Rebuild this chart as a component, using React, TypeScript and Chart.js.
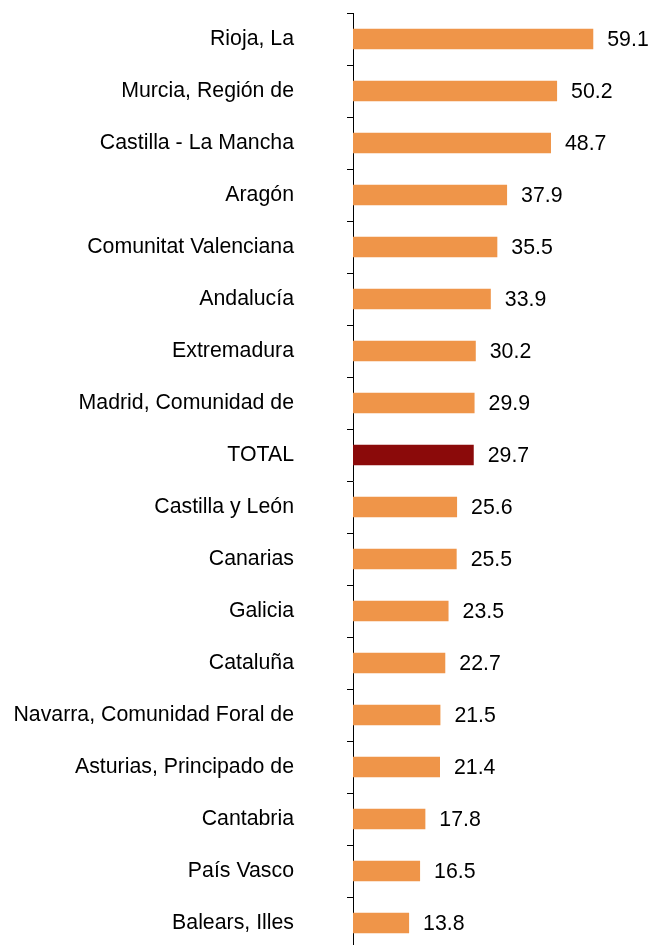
import React, { useEffect, useRef } from "react";
import { Chart, registerables } from "chart.js";

Chart.register(...registerables);

const categories: string[] = [
  "Rioja, La",
  "Murcia, Región de",
  "Castilla - La Mancha",
  "Aragón",
  "Comunitat Valenciana",
  "Andalucía",
  "Extremadura",
  "Madrid, Comunidad de",
  "TOTAL",
  "Castilla y León",
  "Canarias",
  "Galicia",
  "Cataluña",
  "Navarra, Comunidad Foral de",
  "Asturias, Principado de",
  "Cantabria",
  "País Vasco",
  "Balears, Illes",
];

const values: number[] = [
  59.1, 50.2, 48.7, 37.9, 35.5, 33.9, 30.2, 29.9, 29.7, 25.6, 25.5, 23.5, 22.7, 21.5, 21.4, 17.8, 16.5, 13.8,
];

const ORANGE = "#EF9549";
const DARK_RED = "#8B0A0A";
const FONT_FAMILY = "'Liberation Sans', Arial, sans-serif";
const FONT_SIZE = 21.3;

const valueLabels = {
  id: "valueLabels",
  afterDatasetsDraw(chart: any) {
    const ctx = chart.ctx;
    const meta = chart.getDatasetMeta(0);
    ctx.save();
    ctx.font = `${FONT_SIZE}px ${FONT_FAMILY}`;
    ctx.fillStyle = "#000000";
    ctx.textAlign = "left";
    ctx.textBaseline = "middle";
    meta.data.forEach((bar: any, i: number) => {
      const v = chart.data.datasets[0].data[i];
      ctx.fillText(v.toFixed(1), bar.x + 14, bar.y + 1);
    });
    ctx.restore();
  },
};

export default function App() {
  const ref = useRef<HTMLCanvasElement | null>(null);

  useEffect(() => {
    if (!ref.current) return;
    const chart = new Chart(ref.current, {
      type: "bar",
      data: {
        labels: categories,
        datasets: [
          {
            data: values,
            backgroundColor: categories.map((c) => (c === "TOTAL" ? DARK_RED : ORANGE)),
            barPercentage: 0.39,
            categoryPercentage: 1,
          },
        ],
      },
      options: {
        indexAxis: "y",
        animation: false,
        responsive: true,
        maintainAspectRatio: false,
        layout: { padding: { top: 13, bottom: 0, left: 0, right: 0 } },
        plugins: {
          legend: { display: false },
          tooltip: { enabled: false },
        },
        scales: {
          x: {
            display: false,
            min: 0,
            max: 73.3,
          },
          y: {
            afterFit: (scale: any) => {
              scale.width = 353;
              scale.paddingTop = 0;
              scale.paddingBottom = 0;
            },
            grid: {
              display: true,
              drawOnChartArea: false,
              drawTicks: true,
              tickLength: 6,
              color: "#000000",
              offset: true,
            },
            border: { display: true, color: "#000000", width: 1 },
            ticks: {
              padding: 53,
              color: "#000000",
              font: { family: FONT_FAMILY, size: FONT_SIZE },
            },
          },
        },
      },
      plugins: [valueLabels],
    });
    return () => chart.destroy();
  }, []);

  return (
    <div style={{ position: "absolute", left: 0, top: 0, width: 651, height: 945, overflow: "hidden" }}>
      <div style={{ position: "relative", width: 651, height: 949 }}>
        <canvas ref={ref} />
      </div>
    </div>
  );
}
